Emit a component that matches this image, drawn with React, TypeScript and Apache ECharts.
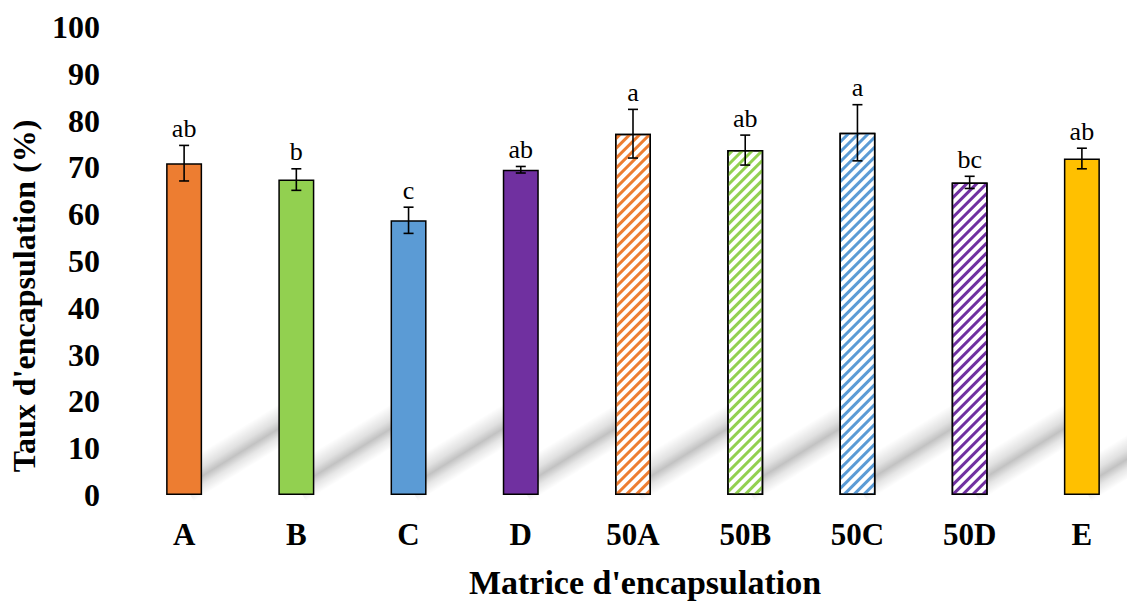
import React, { useEffect, useRef } from 'react';
import * as echarts from 'echarts';

const categories = ['A', 'B', 'C', 'D', '50A', '50B', '50C', '50D', 'E'];
const values = [70.9, 67.4, 58.7, 69.5, 77.2, 73.7, 77.4, 66.8, 71.9];
const errors = [3.8, 2.3, 2.8, 0.7, 5.2, 3.2, 6.0, 1.3, 2.2];
const letters = ['ab', 'b', 'c', 'ab', 'a', 'ab', 'a', 'bc', 'ab'];
const barColors = ['#ED7D31', '#92D050', '#5B9BD5', '#7030A0', '#ED7D31', '#92D050', '#5B9BD5', '#7030A0', '#FFC000'];
const hatched = [false, false, false, false, true, true, true, true, false];
const yTicks = { min: 0, max: 100, interval: 10 };

const FONT = "'Times New Roman', 'Liberation Serif', serif";

export default function App() {
  const ref = useRef<HTMLDivElement>(null);
  useEffect(() => {
    if (!ref.current) return;
    const chart = echarts.init(ref.current, undefined, { renderer: 'svg' });

    const barData = values.map((v, i) => ({
      value: v,
      itemStyle: hatched[i]
        ? {
            color: '#ffffff',
            decal: {
              symbol: 'rect',
              symbolSize: 1,
              color: barColors[i],
              backgroundColor: '#ffffff',
              dashArrayX: [1, 0],
              dashArrayY: [3, 4],
              rotation: -Math.PI / 4,
            },
          }
        : { color: barColors[i] },
    }));

    const errData = values.map((v, i) => [i, v - errors[i], v + errors[i]]);
    const shadowData = values.map((_, i) => [i, 0]);

    const option: any = {
      animation: false,
      backgroundColor: '#ffffff',
      grid: { left: 128, top: 27, width: 1010, height: 468, containLabel: false, outerBoundsMode: 'none' },
      xAxis: {
        type: 'category',
        data: categories,
        axisLine: { show: false },
        axisTick: { show: false },
        axisLabel: { fontFamily: FONT, fontWeight: 'bold', fontSize: 31, color: '#000', margin: 24 },
        name: "Matrice d'encapsulation",
        nameLocation: 'middle',
        nameGap: 70,
        nameTextStyle: { fontFamily: FONT, fontWeight: 'bold', fontSize: 34, color: '#000', padding: [0, 0, 0, 24] },
      },
      yAxis: {
        type: 'value',
        min: yTicks.min,
        max: yTicks.max,
        interval: yTicks.interval,
        axisLine: { show: false },
        axisTick: { show: false },
        splitLine: { show: false },
        axisLabel: { fontFamily: FONT, fontWeight: 'bold', fontSize: 32, color: '#000', margin: 28 },
        name: "Taux d'encapsulation (%)",
        nameLocation: 'middle',
        nameRotate: 90,
        nameGap: 88,
        nameTextStyle: { fontFamily: FONT, fontWeight: 'bold', fontSize: 32, color: '#000', padding: [0, 70, 0, 0] },
      },
      series: [
        {
          type: 'custom',
          z: 1,
          silent: true,
          data: shadowData,
          renderItem: (params: any, api: any) => {
            const p = api.coord([api.value(0), api.value(1)]);
            const cx = p[0];
            const y0 = p[1];
            const slope = 0.62;
            const len = 112;
            const h = 38;
            const norm = Math.sqrt(1 + slope * slope);
            const nx = slope / norm;
            const ny = 1 / norm;
            const x0 = cx, yy0 = y0 - 10;
            const x1 = cx + len, yy1 = yy0 - slope * len;
            const pts = [
              [x0 - nx * h / 2, yy0 - ny * h / 2],
              [x1 - nx * h / 2, yy1 - ny * h / 2],
              [x1 + nx * h / 2, yy1 + ny * h / 2],
              [x0 + nx * h / 2, yy0 + ny * h / 2],
            ];
            const gx = x0 + 40, gy = yy0 - slope * 40;
            const grad = new echarts.graphic.LinearGradient(
              gx - nx * h / 2, gy - ny * h / 2, gx + nx * h / 2, gy + ny * h / 2,
              [
                { offset: 0, color: 'rgba(0,0,0,0)' },
                { offset: 0.35, color: 'rgba(0,0,0,0.12)' },
                { offset: 0.55, color: 'rgba(0,0,0,0.24)' },
                { offset: 0.75, color: 'rgba(0,0,0,0.1)' },
                { offset: 1, color: 'rgba(0,0,0,0)' },
              ],
              true
            );
            return { type: 'polygon', shape: { points: pts }, style: { fill: grad } };
          },
        },
        {
          type: 'bar',
          z: 2,
          barWidth: 36,
          data: barData,
          itemStyle: { borderColor: '#000', borderWidth: 1.5 },
        },
        {
          type: 'custom',
          z: 3,
          silent: true,
          data: errData,
          renderItem: (params: any, api: any) => {
            const lo = api.coord([api.value(0), api.value(1)]);
            const hi = api.coord([api.value(0), api.value(2)]);
            const x = lo[0];
            const cap = 5;
            const ls = { stroke: '#000', lineWidth: 1.6 };
            return {
              type: 'group',
              children: [
                { type: 'line', shape: { x1: x, y1: lo[1], x2: x, y2: hi[1] }, style: ls },
                { type: 'line', shape: { x1: x - cap, y1: lo[1], x2: x + cap, y2: lo[1] }, style: ls },
                { type: 'line', shape: { x1: x - cap, y1: hi[1], x2: x + cap, y2: hi[1] }, style: ls },
                {
                  type: 'text',
                  x: x,
                  y: hi[1] - 4,
                  style: {
                    text: letters[params.dataIndex],
                    fontFamily: FONT,
                    fontSize: 26,
                    fill: '#000',
                    align: 'center',
                    verticalAlign: 'bottom',
                  },
                },
              ],
            };
          },
        },
      ],
    };
    chart.setOption(option);
    return () => chart.dispose();
  }, []);
  return (
    <div style={{ position: 'absolute', left: 0, top: 0, width: 1127, height: 602, overflow: 'hidden' }}>
      <div ref={ref} style={{ width: 1140, height: 602 }} />
    </div>
  );
}
